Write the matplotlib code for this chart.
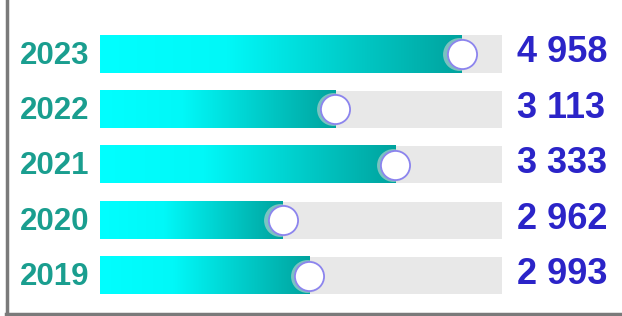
import matplotlib
matplotlib.use("Agg")
import matplotlib.pyplot as plt
import numpy as np
from matplotlib.colors import LinearSegmentedColormap
from matplotlib.lines import Line2D

years = ["2023", "2022", "2021", "2020", "2019"]
progress = [0.90, 0.585, 0.735, 0.455, 0.52]
value_labels = ["4 958", "3 113", "3 333", "2 962", "2 993"]

YEAR_COLOR = "#1a9e8f"
VALUE_COLOR = "#2b24c8"
TRACK_COLOR = "#e8e8e8"
grad = LinearSegmentedColormap.from_list(
    "bar", [(0, "#00ffff"), (0.35, "#00f8f8"), (1, "#00a39e")])

fig = plt.figure(figsize=(6.22, 3.16), dpi=100)
ax = fig.add_axes([0, 0, 1, 1])
ax.set_axis_off()

bar_h = 0.67
gradient = np.linspace(0, 1, 256).reshape(1, -1)
for i, (yr, p, lab) in enumerate(zip(years, progress, value_labels)):
    # background track
    ax.barh(i, 1.0, left=0, height=bar_h, color=TRACK_COLOR, zorder=1)
    # gradient fill
    ax.imshow(gradient, cmap=grad, aspect="auto", zorder=2,
              extent=(0, p, i + bar_h / 2, i - bar_h / 2))
    # knob with soft shadow
    ax.scatter([p - 0.006], [i], s=560, color="#cfd3d3", alpha=0.6,
               lw=0, zorder=3)
    ax.scatter([p], [i], s=440, color="white", edgecolors="#8c84ee",
               linewidths=1.3, zorder=4)
    ax.text(-0.027, i + 0.03, yr, ha="right", va="center", fontsize=22.5,
            fontweight="bold", color=YEAR_COLOR, family="Liberation Sans")
    ax.text(1.037, i - 0.02, lab, ha="left", va="center", fontsize=26,
            fontweight="bold", color=VALUE_COLOR, family="Liberation Sans")

ax.set_xlim(-100 / 402, 522 / 402)
ax.set_ylim(262 / 55.4, -54 / 55.4)

# frame lines on the left and bottom
fig.add_artist(Line2D([7 / 622, 7 / 622], [2 / 316, 1], color="#7a7a7a",
                      lw=2.5, transform=fig.transFigure))
fig.add_artist(Line2D([6 / 622, 1], [2 / 316, 2 / 316], color="#7a7a7a",
                      lw=2.5, transform=fig.transFigure))

fig.savefig("out.png", dpi=100)
